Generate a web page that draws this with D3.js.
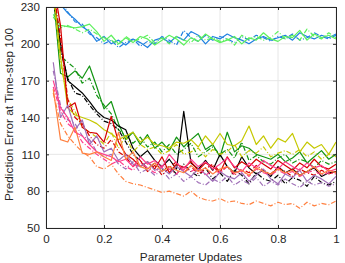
<!DOCTYPE html>
<html><head><meta charset="utf-8">
<script src="https://cdn.jsdelivr.net/npm/d3@7"></script>
<style>body{margin:0;background:#fff}text{font-family:"Liberation Sans",Arial,sans-serif}</style>
</head><body><svg id="c" width="345" height="263"></svg>
<script>
const xTicks = [0, 0.2, 0.4, 0.6, 0.8, 1];
const yTicks = [50, 80, 110, 140, 170, 200, 230];
const xValues = d3.range(1, 41).map(k => k * 0.025);

const blueSolid = [250,232,225,220,214,210,202,206,200,203,199,204,201,197,203,205,201,206,203,210,207,200,206,204,208,205,203,200,204,206,203,205,207,203,209,206,204,207,205,208];
const blueDash = [248,235,226,218,216,208,205,200,203,197,201,204,198,202,200,206,203,199,211,205,202,207,203,206,204,201,206,203,207,205,202,206,204,208,203,205,209,206,204,207];
const greenSolid = [224,215,214,213,214,216,210,202,207,200,205,201,206,204,199,203,207,204,199,205,202,208,204,201,203,206,200,205,203,209,204,202,206,205,211,203,208,205,207,204];
const greenDash = [222,213,215,212,209,212,208,205,203,199,206,202,204,207,201,205,200,206,203,201,207,203,205,202,204,199,207,204,206,203,205,210,204,207,203,212,206,204,209,205];
const dkGreenSolid = [240,176,173,178,172,182,165,147,153,135,122,128,118,126,115,120,113,124,116,122,127,114,118,108,128,112,117,115,110,108,106,110,104,107,112,103,108,113,106,110];
const dkGreenDash = [245,190,185,180,168,172,158,150,143,130,125,119,124,116,120,112,118,110,114,119,108,112,116,110,114,107,120,105,109,104,102,107,110,103,106,104,99,105,102,104];
const blackSolid = [240,200,170,165,160,153,145,140,138,133,130,115,108,113,105,100,106,98,145,103,98,105,97,110,100,95,108,99,94,97,92,100,95,98,93,96,99,92,95,96];
const blackDash = [238,195,172,160,158,150,143,137,135,130,120,110,105,98,103,97,100,94,102,96,92,99,90,95,88,97,93,86,95,90,88,93,86,91,89,84,92,87,85,88];
const yellowSolid = [245,190,148,142,140,138,135,130,127,122,125,128,120,124,118,117,115,120,119,122,116,125,118,127,118,117,121,133,118,125,115,123,120,127,112,120,115,118,110,120];
const yellowDash = [240,185,155,145,132,128,124,118,128,115,125,112,118,114,116,110,113,118,110,112,115,108,114,110,112,118,108,113,111,116,108,111,113,110,114,108,112,106,110,108];
const redSolid = [250,215,148,152,132,128,127,120,141,120,110,106,100,104,98,108,95,102,99,104,97,103,100,95,108,99,104,100,106,102,98,105,101,97,103,99,106,100,98,102];
const redDash = [245,205,155,140,135,125,118,115,122,112,108,100,105,96,101,93,99,104,95,100,94,98,102,96,100,93,98,95,101,97,94,99,96,92,98,95,93,97,94,96];
const purpleSolid = [185,140,150,130,138,118,125,112,115,105,110,102,100,104,97,99,94,100,96,92,98,94,88,96,92,90,95,88,93,98,90,86,94,91,97,88,93,90,86,92];
const purpleDash = [178,150,138,135,125,122,112,108,110,102,98,104,95,98,93,97,90,94,88,92,87,85,90,87,92,85,89,86,91,84,88,85,90,86,83,88,85,87,84,86];
const pinkSolid = [170,148,140,128,125,118,112,110,108,104,106,100,108,102,105,99,110,103,97,106,100,104,98,102,107,100,96,103,99,105,101,98,104,100,97,103,99,101,96,98];
const pinkDash = [165,145,135,130,120,115,110,106,102,105,100,97,103,99,95,101,98,94,100,96,99,93,97,95,100,94,97,92,98,95,93,97,94,96,92,95,97,93,95,94];
const orangeSolid = [163,122,120,132,111,110,112,108,105,128,106,112,100,98,103,96,100,97,95,101,96,99,94,98,100,95,97,93,99,96,94,98,95,97,93,96,100,94,97,95];
const orangeDash = [160,135,125,118,112,108,100,98,102,94,88,86,85,83,81,79,80,78,76,80,75,73,72,74,71,72,70,69,72,70,68,71,69,70,66,71,68,70,69,72];

const seriesList = [
  {v: blueSolid, c: "#1f80e0", d: false}, {v: blueDash, c: "#1f80e0", d: true},
  {v: greenSolid, c: "#5cf05c", d: false}, {v: greenDash, c: "#5cf05c", d: true},
  {v: dkGreenSolid, c: "#129412", d: false}, {v: dkGreenDash, c: "#129412", d: true},
  {v: blackSolid, c: "#000000", d: false}, {v: blackDash, c: "#000000", d: true},
  {v: yellowSolid, c: "#c5c800", d: false}, {v: yellowDash, c: "#c5c800", d: true},
  {v: redSolid, c: "#d60000", d: false}, {v: redDash, c: "#d60000", d: true},
  {v: purpleSolid, c: "#a070b8", d: false}, {v: purpleDash, c: "#a070b8", d: true},
  {v: pinkSolid, c: "#ff3c8c", d: false}, {v: pinkDash, c: "#ff3c8c", d: true},
  {v: orangeSolid, c: "#ff8040", d: false}, {v: orangeDash, c: "#ff8040", d: true}
];

const W = 345, H = 263;
const m = {l: 46, r: 9, t: 7, b: 35};
const svg = d3.select("#c");
const x = d3.scaleLinear().domain([0, 1]).range([m.l, W - m.r]);
const y = d3.scaleLinear().domain([50, 230]).range([H - m.b, m.t]);

svg.append("g").selectAll("line").data(xTicks).join("line")
  .attr("x1", d => x(d)).attr("x2", d => x(d)).attr("y1", m.t).attr("y2", H - m.b)
  .attr("stroke", "#e6e6e6").attr("stroke-width", 1);
svg.append("g").selectAll("line").data(yTicks).join("line")
  .attr("x1", m.l).attr("x2", W - m.r).attr("y1", d => y(d)).attr("y2", d => y(d))
  .attr("stroke", "#e6e6e6").attr("stroke-width", 1);

svg.append("clipPath").attr("id", "clip").append("rect")
  .attr("x", m.l).attr("y", m.t).attr("width", W - m.r - m.l).attr("height", H - m.b - m.t);

const line = d3.line().x((d, i) => x(xValues[i])).y(d => y(d));
const g = svg.append("g").attr("clip-path", "url(#clip)");
seriesList.forEach(s => {
  g.append("path").datum(s.v).attr("d", line).attr("fill", "none")
    .attr("stroke", s.c).attr("stroke-width", 1.2)
    .attr("stroke-linejoin", "round")
    .attr("stroke-dasharray", s.d ? "5,2,1,2" : null);
});

const axCol = "#262626";
const fmtX = d => d === 0 || d === 1 ? String(d) : d.toFixed(1);
const axBottom = svg.append("g").attr("transform", `translate(0,${H - m.b})`)
  .call(d3.axisBottom(x).tickValues(xTicks).tickSize(-3).tickPadding(7).tickFormat(fmtX));
const axTop = svg.append("g").attr("transform", `translate(0,${m.t})`)
  .call(d3.axisTop(x).tickValues(xTicks).tickSize(-3).tickFormat(""));
const axLeft = svg.append("g").attr("transform", `translate(${m.l},0)`)
  .call(d3.axisLeft(y).tickValues(yTicks).tickSize(-3).tickPadding(6));
const axRight = svg.append("g").attr("transform", `translate(${W - m.r},0)`)
  .call(d3.axisRight(y).tickValues(yTicks).tickSize(-3).tickFormat(""));
[axBottom, axTop, axLeft, axRight].forEach(a => {
  a.selectAll("path,line").attr("stroke", axCol);
  a.selectAll("text").attr("fill", axCol).style("font-size", "11.6px")
    .style("font-family", "'Liberation Sans',Arial,sans-serif");
});

svg.append("text").attr("x", (x(0) + x(1)) / 2).attr("y", 261)
  .attr("text-anchor", "middle").attr("fill", axCol).style("font-size", "11.8px")
  .text("Parameter Updates");
svg.append("text").attr("transform", `translate(12.5,${(m.t + H - m.b) / 2 - 3}) rotate(-90)`)
  .attr("text-anchor", "middle").attr("fill", axCol).style("font-size", "11.8px")
  .text("Prediction Error at Time-step 100");
</script></body></html>
